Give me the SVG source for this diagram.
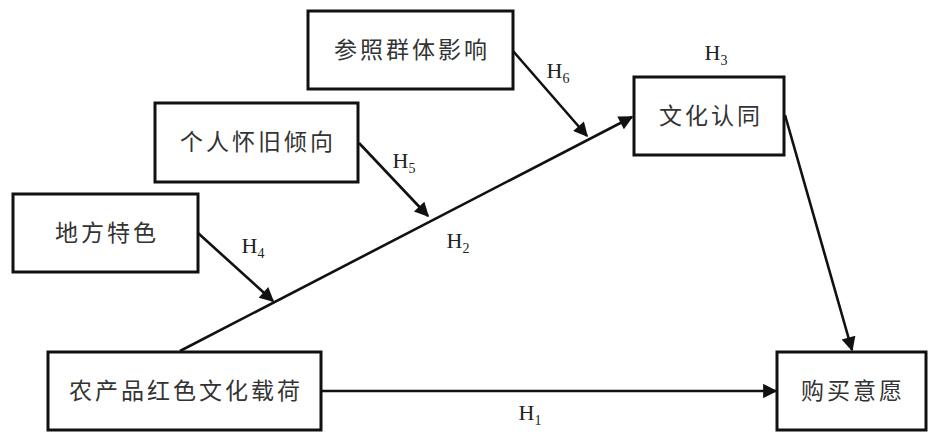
<svg xmlns="http://www.w3.org/2000/svg" width="942" height="438" viewBox="0 0 942 438">
<style>
.box{fill:#fff;stroke:#111;stroke-width:3}
.t{font-family:"Liberation Serif","Noto Sans CJK SC",serif;font-size:23px;fill:#333;text-anchor:middle;dominant-baseline:central;letter-spacing:3px}
.e{stroke:#111;stroke-width:2.6;fill:none}
.h{font-family:"Liberation Serif",serif;font-size:22px;fill:#222;text-anchor:middle}
.s{font-size:14px}
</style>
<defs>
<marker id="a" viewBox="0 0 10 10" refX="9" refY="5" markerWidth="6.5" markerHeight="5.5" markerUnits="strokeWidth" orient="auto">
<path d="M0,0 L10,5 L0,10 z" fill="#111"/>
</marker>
</defs>
<rect width="942" height="438" fill="#fff"/>
<g id="connectors">
<line class="e" x1="180" y1="351" x2="632" y2="117" marker-end="url(#a)"/>
<line class="e" x1="513" y1="51" x2="587" y2="136" marker-end="url(#a)"/>
<line class="e" x1="359" y1="143" x2="428" y2="216" marker-end="url(#a)"/>
<line class="e" x1="198" y1="233" x2="273" y2="301" marker-end="url(#a)"/>
<line class="e" x1="785" y1="115" x2="852" y2="350" marker-end="url(#a)"/>
<line class="e" x1="321" y1="391" x2="776" y2="391" marker-end="url(#a)"/>
</g>
<g id="labels">
<text class="h" x="558" y="78">H<tspan class="s" dy="5">6</tspan></text>
<text class="h" x="404" y="168">H<tspan class="s" dy="5">5</tspan></text>
<text class="h" x="253" y="253">H<tspan class="s" dy="5">4</tspan></text>
<text class="h" x="458" y="248">H<tspan class="s" dy="5">2</tspan></text>
<text class="h" x="716" y="60">H<tspan class="s" dy="5">3</tspan></text>
<text class="h" x="530" y="420">H<tspan class="s" dy="5">1</tspan></text>
</g>
<g id="n_ref"><rect class="box" x="308" y="11" width="205" height="78"/><text class="t" x="412" y="50">参照群体影响</text></g>
<g id="n_nost"><rect class="box" x="155" y="103" width="203" height="79"/><text class="t" x="258" y="142">个人怀旧倾向</text></g>
<g id="n_local"><rect class="box" x="13" y="194" width="185" height="78"/><text class="t" x="107" y="233">地方特色</text></g>
<g id="n_red"><rect class="box" x="48" y="352" width="273" height="78"/><text class="t" x="186" y="391">农产品红色文化载荷</text></g>
<g id="n_cult"><rect class="box" x="634" y="77" width="150" height="78"/><text class="t" x="711" y="116">文化认同</text></g>
<g id="n_buy"><rect class="box" x="777" y="352" width="149" height="78"/><text class="t" x="853" y="391">购买意愿</text></g>
</svg>
